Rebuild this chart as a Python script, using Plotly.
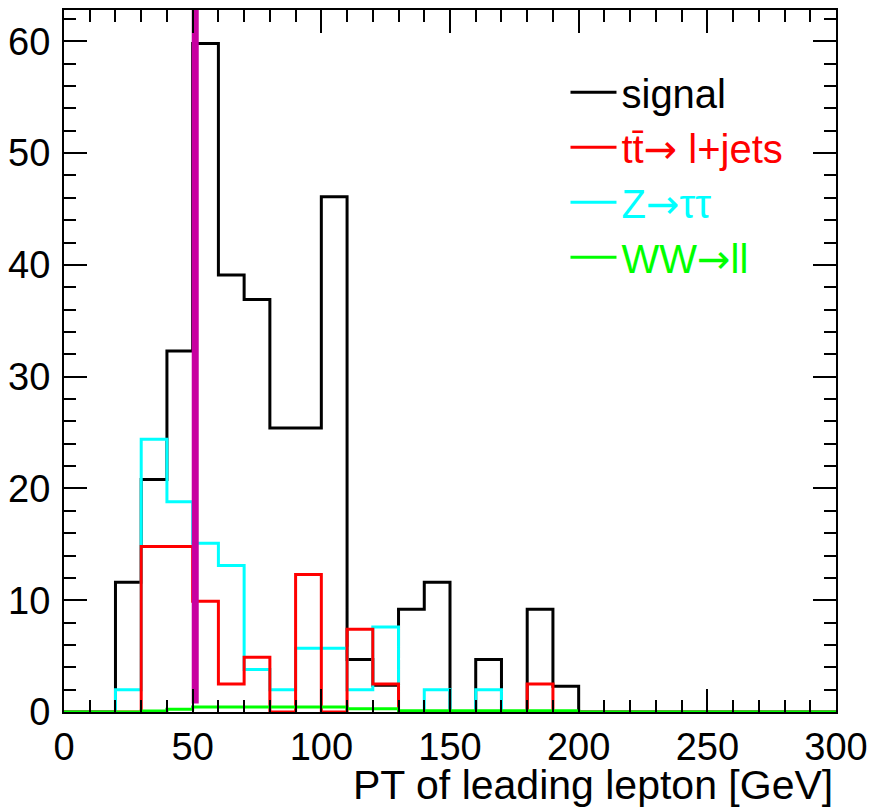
import numpy as np
import plotly.graph_objects as go

# ---- data (bin contents, 10 GeV bins from 0 to 300) ----
bin_edges = list(range(0, 310, 10))
signal = [0, 0, 11.6, 20.8, 32.3, 59.8, 39.1, 36.9, 25.4, 25.4,
          46.1, 4.7, 2.4, 9.2, 11.6, 0, 4.7, 0, 9.2, 2.3,
          0, 0, 0, 0, 0, 0, 0, 0, 0, 0]
ttbar = [0, 0, 0, 14.8, 14.8, 9.9, 2.5, 4.9, 0, 12.3,
         0, 7.4, 2.5, 0, 0, 0, 0, 0, 2.5, 0,
         0, 0, 0, 0, 0, 0, 0, 0, 0, 0]
ztautau = [0, 0, 2.0, 24.4, 18.8, 15.1, 13.1, 3.8, 2.0, 5.7,
           5.7, 2.0, 7.6, 0, 2.0, 0, 2.0, 0, 0, 0,
           0, 0, 0, 0, 0, 0, 0, 0, 0, 0]
wwll = [0, 0, 0, 0.1, 0.25, 0.45, 0.45, 0.45, 0.45, 0.45,
        0.45, 0.3, 0.3, 0.12, 0.12, 0.12, 0.12, 0.12, 0.12, 0.12,
        0, 0, 0, 0, 0, 0, 0, 0, 0, 0]
cut_value = 51
cut_line_y = [0.75, 62.8]

x_range = [0, 300]
y_range = [0, 62.8]

FONT = "Liberation Sans, Arial, sans-serif"
ARROW = "<span style='font-family:DejaVu Sans'>→</span>"

series = [
    # (values, name, colour, legend rank)
    (signal, "signal", "#000000", 1),
    (ztautau, "Z" + ARROW + "ττ", "#00ffff", 3),
    (ttbar, "tt̄" + ARROW + " l+jets", "#ff0000", 2),
    (wwll, "WW" + ARROW + "ll", "#00ff00", 4),
]

fig = go.Figure()
for vals, name, col, rank in series:
    fig.add_trace(go.Scatter(
        x=bin_edges, y=list(vals) + [vals[-1]],
        mode="lines", line=dict(color=col, width=3, shape="hv"),
        name=f"<span style='color:{col}'>{name}</span>",
        legendrank=rank, hoverinfo="skip",
    ))

fig.add_trace(go.Scatter(
    x=[cut_value, cut_value], y=cut_line_y, mode="lines",
    line=dict(color="#c800a0", width=7), showlegend=False, hoverinfo="skip",
))

axis_common = dict(
    showline=True, linecolor="black", linewidth=2, mirror="allticks",
    ticks="inside", tickcolor="black", tickwidth=2, ticklen=23,
    showgrid=False, zeroline=False,
    tickfont=dict(family=FONT, size=38, color="black"),
)

fig.update_xaxes(range=x_range, dtick=50, tick0=0,
                 minor=dict(ticks="inside", dtick=10, ticklen=12, tickcolor="black", tickwidth=2),
                 ticklabelstandoff=0, **axis_common)
fig.update_yaxes(range=y_range, dtick=10, tick0=0,
                 minor=dict(ticks="inside", dtick=2, ticklen=12, tickcolor="black", tickwidth=2),
                 ticklabelstandoff=4, **axis_common)

fig.add_annotation(
    text="PT of leading lepton [GeV]", xref="paper", yref="paper",
    x=1.0, y=0, xanchor="right", yanchor="top", yshift=-48, xshift=-1,
    showarrow=False,
    font=dict(family=FONT, size=41, color="black"),
)

fig.update_layout(
    width=867, height=799,
    margin=dict(l=56, r=39, t=0, b=95),
    plot_bgcolor="white", paper_bgcolor="white",
    showlegend=True,
    legend=dict(x=0.6496, y=0.929, xanchor="left", yanchor="top",
                bgcolor="rgba(0,0,0,0)", borderwidth=0,
                font=dict(family=FONT, size=40, color="black"),
                itemwidth=46, tracegroupgap=0),
)

fig.write_html("out.html")
